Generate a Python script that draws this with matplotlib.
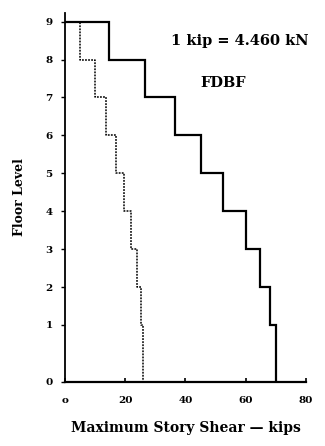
import numpy as np
import matplotlib
matplotlib.use("Agg")
import matplotlib.pyplot as plt

# story heights (ft), bottom story first -> floor elevations
story_height_ft = [18, 12, 12, 12, 12, 12, 12, 12, 12]
floor_labels = ["0", "1", "2", "3", "4", "5", "6", "7", "8", "9"]

# maximum story shear (kips), story 1 (bottom) to story 9 (top)
shear_fdbf = [69.9, 68.0, 64.8, 60.0, 52.6, 45.0, 36.5, 26.7, 14.5]
shear_other = [25.9, 25.1, 23.8, 22.0, 19.7, 16.8, 13.6, 10.0, 5.0]

x_ticks = [0, 20, 40, 60, 80]
x_tick_labels = ["o", "20", "40", "60", "80"]


def step_profile(shears, elev):
    # stair-step line from the roof (x=0) down to ground
    xs = [0.0]
    ys = [elev[-1]]
    for i in range(len(shears) - 1, -1, -1):
        xs += [shears[i], shears[i]]
        ys += [elev[i + 1], elev[i]]
    return xs, ys


def main():
    elev = np.concatenate([[0], np.cumsum(story_height_ft)]) / 12.0

    fig = plt.figure(figsize=(3.25, 4.46), dpi=100)
    ax = fig.add_axes([0.2, 0.144, 0.7415, 0.827])

    xs, ys = step_profile(shear_fdbf, elev)
    ax.plot(xs, ys, color="black", lw=1.6, solid_joinstyle="miter")

    xo, yo = step_profile(shear_other, elev)
    ax.plot(xo, yo, color="black", lw=1.1, linestyle=(0, (1.2, 0.8)))

    ax.set_xlim(0, 80)
    ax.set_ylim(0, elev[-1] + 0.23)
    ax.set_xticks(x_ticks)
    ax.set_xticklabels(x_tick_labels)
    ax.set_yticks(elev)
    ax.set_yticklabels(floor_labels)

    for s in ["top", "right"]:
        ax.spines[s].set_visible(False)
    ax.spines["left"].set_linewidth(1.3)
    ax.spines["bottom"].set_linewidth(1.6)
    ax.tick_params(axis="x", direction="in", length=3, width=1.2, labelsize=7.5, pad=10)
    ax.tick_params(axis="y", direction="out", length=3, width=1.0, labelsize=7.5, pad=6)
    for lab in ax.get_xticklabels() + ax.get_yticklabels():
        lab.set_fontweight("bold")
        lab.set_family("DejaVu Serif")

    ax.set_xlabel("Maximum Story Shear \u2014 kips", fontsize=10, fontweight="bold",
                  family="DejaVu Serif", labelpad=12)
    ax.set_ylabel("Floor Level", fontsize=9, fontweight="bold", family="DejaVu Serif",
                  labelpad=14)

    ax.text(35.2, elev[-1] - 0.5, "1 kip = 4.460 kN", fontsize=10.5, fontweight="bold",
            family="DejaVu Serif", va="center")
    ax.text(44.8, elev[7] + 0.37, "FDBF", fontsize=10.5, fontweight="bold",
            family="DejaVu Serif", va="center")

    fig.savefig("out.png", dpi=100)


if __name__ == "__main__":
    main()
